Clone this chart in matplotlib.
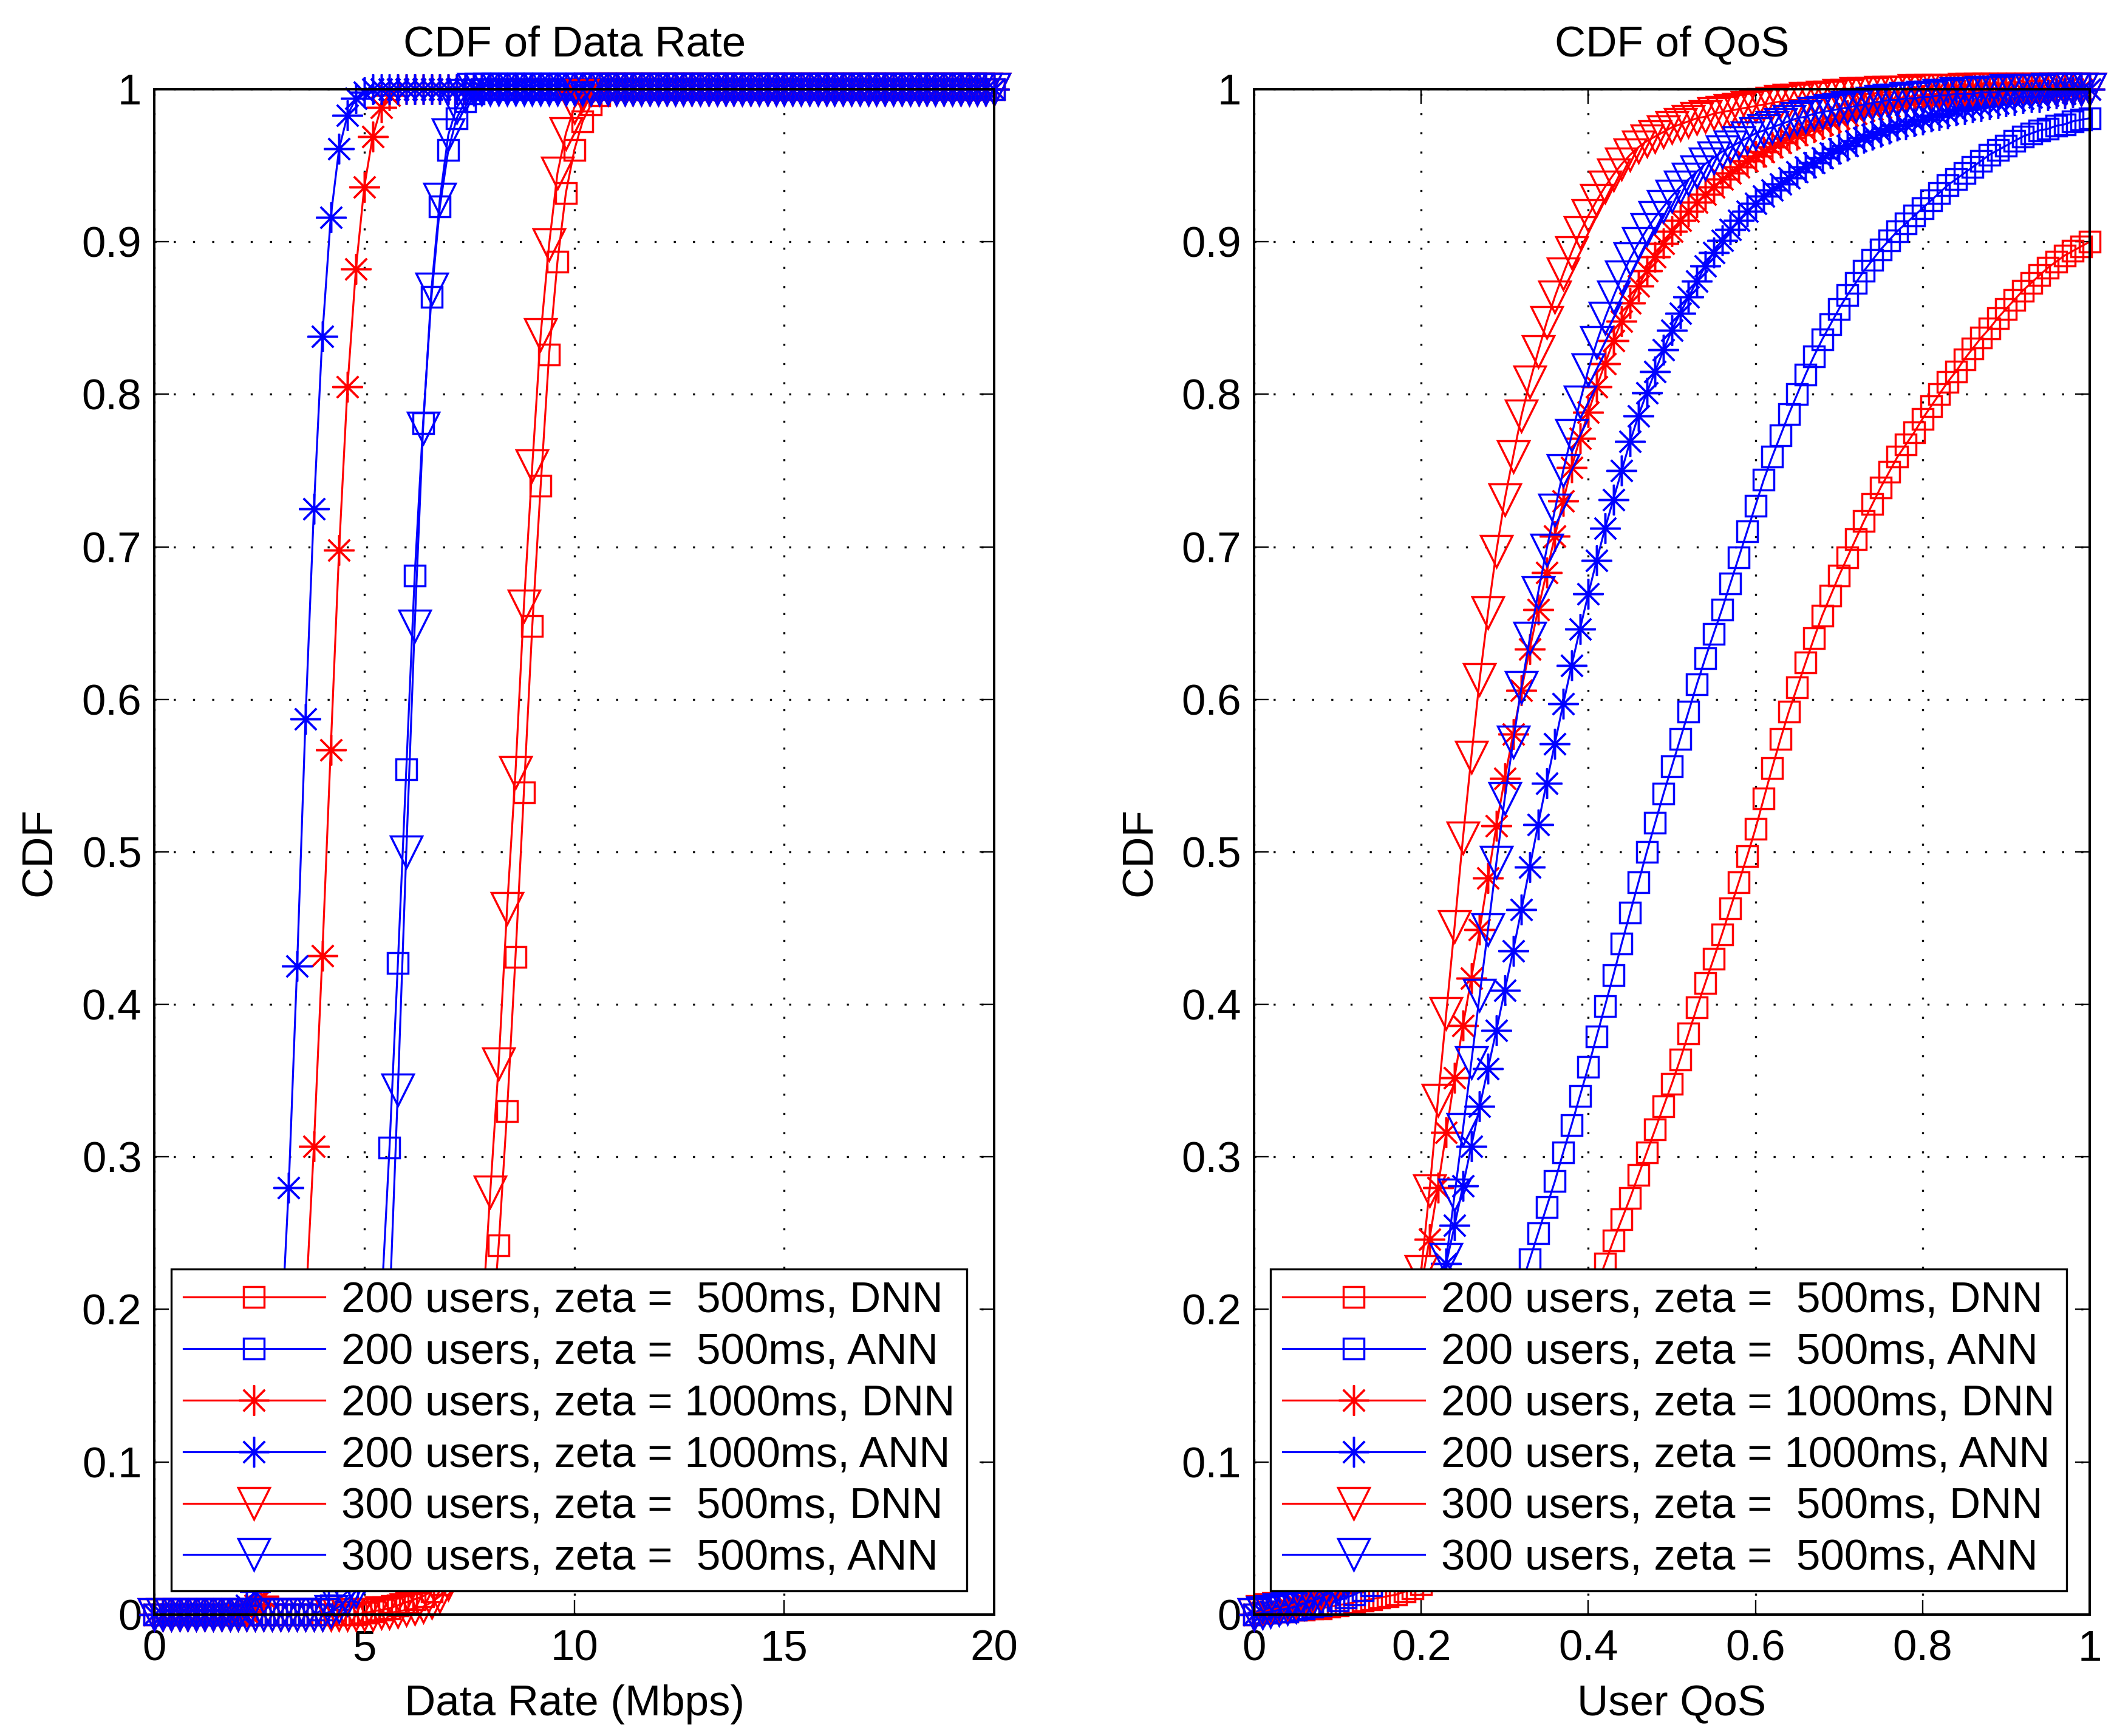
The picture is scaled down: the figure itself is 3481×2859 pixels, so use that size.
import numpy as np
import matplotlib
matplotlib.use("Agg")
import matplotlib.pyplot as plt

plt.rcParams["font.family"] = ["Liberation Sans", "DejaVu Sans"]

# ---- data ----
# left panel: CDF sampled every 0.2 Mbps from 0 to 20
rate_grid = np.linspace(0, 20, 101)

rate_dnn_200_500 = ([0.0] * 25
                    + [0.001, 0.002, 0.003, 0.004, 0.006, 0.008, 0.010, 0.012, 0.015, 0.020,
                       0.028, 0.040, 0.055, 0.080, 0.115, 0.170, 0.242, 0.330, 0.431, 0.539,
                       0.648, 0.740, 0.826, 0.887, 0.932, 0.960, 0.979, 0.990, 0.996]
                    + [1.0] * 47)
rate_ann_200_500 = ([0.0] * 20
                    + [0.003, 0.006, 0.010, 0.015, 0.025, 0.045, 0.090, 0.200, 0.306, 0.427,
                       0.554, 0.681, 0.781, 0.864, 0.923, 0.960, 0.981, 0.992, 0.997]
                    + [1.0] * 62)
rate_dnn_200_1000 = ([0.0] * 11
                     + [0.002, 0.006, 0.012, 0.025, 0.045, 0.080, 0.130, 0.200, 0.307, 0.432,
                        0.567, 0.698, 0.805, 0.882, 0.936, 0.969, 0.988, 0.996]
                     + [1.0] * 72)
rate_ann_200_1000 = ([0.0] * 10
                     + [0.002, 0.006, 0.015, 0.040, 0.090, 0.170, 0.280, 0.425, 0.587, 0.725,
                        0.838, 0.916, 0.961, 0.983, 0.994, 0.998]
                     + [1.0] * 75)
rate_dnn_300_500 = ([0.0] * 27
                    + [0.001, 0.001, 0.002, 0.003, 0.004, 0.005, 0.008, 0.012, 0.020, 0.035,
                       0.060, 0.100, 0.190, 0.277, 0.361, 0.463, 0.552, 0.661, 0.753, 0.839,
                       0.898, 0.945, 0.971, 0.988, 0.996]
                    + [1.0] * 49)
rate_ann_300_500 = ([0.0] * 21
                    + [0.002, 0.005, 0.010, 0.015, 0.025, 0.050, 0.100, 0.200, 0.344, 0.500,
                       0.648, 0.778, 0.869, 0.928, 0.970, 0.988, 0.996]
                    + [1.0] * 63)

# right panel: CDF sampled every 0.01 from 0 to 1
qos_grid = np.linspace(0, 1, 101)

qos_dnn_200_500 = [
    0.000, 0.001, 0.001, 0.002, 0.002, 0.003, 0.003, 0.004, 0.004, 0.005,
    0.006, 0.007, 0.008, 0.009, 0.010, 0.011, 0.012, 0.013, 0.015, 0.017,
    0.020, 0.023, 0.027, 0.031, 0.036, 0.042, 0.048, 0.055, 0.063, 0.071,
    0.080, 0.090, 0.100, 0.111, 0.123, 0.135, 0.148, 0.161, 0.175, 0.188,
    0.202, 0.216, 0.230, 0.245, 0.259, 0.273, 0.288, 0.303, 0.318, 0.333,
    0.348, 0.364, 0.381, 0.398, 0.414, 0.430, 0.446, 0.463, 0.480, 0.497,
    0.515, 0.535, 0.555, 0.574, 0.592, 0.608, 0.624, 0.640, 0.655, 0.668,
    0.681, 0.693, 0.705, 0.717, 0.728, 0.739, 0.749, 0.759, 0.767, 0.775,
    0.784, 0.792, 0.800, 0.808, 0.815, 0.823, 0.830, 0.837, 0.843, 0.850,
    0.856, 0.862, 0.868, 0.873, 0.878, 0.883, 0.887, 0.891, 0.894, 0.897,
    0.900]
qos_ann_200_500 = [
    0.000, 0.001, 0.001, 0.002, 0.002, 0.003, 0.004, 0.005, 0.006, 0.007,
    0.009, 0.011, 0.013, 0.016, 0.019, 0.023, 0.027, 0.032, 0.038, 0.045,
    0.053, 0.062, 0.072, 0.083, 0.095, 0.108, 0.122, 0.137, 0.153, 0.169,
    0.185, 0.200, 0.216, 0.233, 0.250, 0.267, 0.284, 0.303, 0.321, 0.340,
    0.359, 0.379, 0.399, 0.419, 0.440, 0.460, 0.480, 0.500, 0.519, 0.538,
    0.556, 0.574, 0.592, 0.610, 0.627, 0.643, 0.659, 0.676, 0.693, 0.710,
    0.727, 0.744, 0.759, 0.773, 0.787, 0.800, 0.813, 0.825, 0.836, 0.846,
    0.856, 0.865, 0.873, 0.881, 0.888, 0.895, 0.901, 0.907, 0.912, 0.917,
    0.922, 0.927, 0.932, 0.937, 0.941, 0.945, 0.949, 0.953, 0.957, 0.960,
    0.963, 0.966, 0.969, 0.971, 0.973, 0.974, 0.976, 0.977, 0.979, 0.980,
    0.981]
qos_dnn_200_1000 = [
    0.000, 0.001, 0.002, 0.003, 0.005, 0.007, 0.009, 0.012, 0.016, 0.020,
    0.025, 0.032, 0.041, 0.052, 0.066, 0.083, 0.104, 0.128, 0.155, 0.185,
    0.215, 0.246, 0.280, 0.316, 0.352, 0.386, 0.417, 0.449, 0.483, 0.517,
    0.548, 0.577, 0.606, 0.633, 0.659, 0.683, 0.707, 0.730, 0.752, 0.771,
    0.788, 0.805, 0.820, 0.835, 0.848, 0.860, 0.871, 0.881, 0.890, 0.899,
    0.907, 0.914, 0.920, 0.926, 0.931, 0.936, 0.941, 0.945, 0.949, 0.953,
    0.956, 0.959, 0.962, 0.965, 0.968, 0.970, 0.973, 0.975, 0.977, 0.979,
    0.981, 0.983, 0.984, 0.986, 0.987, 0.988, 0.989, 0.990, 0.991, 0.992,
    0.993, 0.994, 0.994, 0.995, 0.996, 0.996, 0.997, 0.997, 0.997, 0.998,
    0.998, 0.998, 0.999, 0.999, 0.999, 0.999, 1.000, 1.000, 1.000, 1.000,
    1.000]
qos_ann_200_1000 = [
    0.000, 0.001, 0.002, 0.003, 0.004, 0.006, 0.008, 0.010, 0.013, 0.016,
    0.020, 0.025, 0.032, 0.040, 0.050, 0.063, 0.078, 0.095, 0.114, 0.135,
    0.157, 0.180, 0.205, 0.230, 0.255, 0.281, 0.307, 0.333, 0.358, 0.383,
    0.409, 0.435, 0.462, 0.490, 0.518, 0.545, 0.571, 0.597, 0.622, 0.646,
    0.669, 0.691, 0.712, 0.731, 0.750, 0.769, 0.786, 0.801, 0.815, 0.829,
    0.842, 0.853, 0.864, 0.874, 0.884, 0.893, 0.901, 0.908, 0.914, 0.920,
    0.925, 0.930, 0.934, 0.938, 0.942, 0.946, 0.949, 0.952, 0.955, 0.958,
    0.961, 0.963, 0.966, 0.968, 0.970, 0.972, 0.974, 0.976, 0.977, 0.979,
    0.980, 0.982, 0.983, 0.984, 0.986, 0.987, 0.988, 0.989, 0.990, 0.991,
    0.992, 0.993, 0.994, 0.995, 0.995, 0.996, 0.997, 0.997, 0.998, 0.999,
    1.000]
qos_dnn_300_500 = [
    0.000, 0.002, 0.003, 0.004, 0.005, 0.007, 0.009, 0.011, 0.014, 0.017,
    0.022, 0.028, 0.036, 0.046, 0.058, 0.074, 0.094, 0.118, 0.146, 0.180,
    0.225, 0.278, 0.337, 0.394, 0.451, 0.509, 0.562, 0.613, 0.657, 0.697,
    0.731, 0.759, 0.786, 0.808, 0.828, 0.847, 0.864, 0.879, 0.893, 0.906,
    0.917, 0.927, 0.936, 0.944, 0.951, 0.957, 0.962, 0.966, 0.969, 0.972,
    0.975, 0.977, 0.979, 0.981, 0.982, 0.984, 0.985, 0.986, 0.987, 0.988,
    0.989, 0.990, 0.991, 0.992, 0.993, 0.993, 0.994, 0.994, 0.995, 0.995,
    0.996, 0.996, 0.997, 0.997, 0.997, 0.998, 0.998, 0.998, 0.998, 0.999,
    0.999, 0.999, 0.999, 0.999, 0.999, 1.000, 1.000, 1.000, 1.000, 1.000,
    1.000, 1.000, 1.000, 1.000, 1.000, 1.000, 1.000, 1.000, 1.000, 1.000,
    1.000]
qos_ann_300_500 = [
    0.000, 0.001, 0.002, 0.003, 0.004, 0.005, 0.007, 0.009, 0.011, 0.014,
    0.017, 0.021, 0.026, 0.032, 0.040, 0.050, 0.062, 0.077, 0.095, 0.115,
    0.140, 0.167, 0.198, 0.233, 0.275, 0.318, 0.362, 0.406, 0.449, 0.493,
    0.535, 0.572, 0.608, 0.640, 0.670, 0.698, 0.724, 0.750, 0.773, 0.795,
    0.816, 0.834, 0.850, 0.864, 0.877, 0.889, 0.899, 0.908, 0.916, 0.923,
    0.930, 0.936, 0.941, 0.946, 0.951, 0.955, 0.959, 0.962, 0.965, 0.968,
    0.971, 0.973, 0.975, 0.977, 0.979, 0.981, 0.982, 0.984, 0.985, 0.986,
    0.987, 0.988, 0.989, 0.990, 0.991, 0.992, 0.993, 0.993, 0.994, 0.994,
    0.995, 0.995, 0.996, 0.996, 0.997, 0.997, 0.997, 0.998, 0.998, 0.998,
    0.999, 0.999, 0.999, 0.999, 0.999, 1.000, 1.000, 1.000, 1.000, 1.000,
    1.000]

series_labels = [
    "200 users, zeta =  500ms, DNN",
    "200 users, zeta =  500ms, ANN",
    "200 users, zeta = 1000ms, DNN",
    "200 users, zeta = 1000ms, ANN",
    "300 users, zeta =  500ms, DNN",
    "300 users, zeta =  500ms, ANN",
]
rate_series = [rate_dnn_200_500, rate_ann_200_500, rate_dnn_200_1000,
               rate_ann_200_1000, rate_dnn_300_500, rate_ann_300_500]
qos_series = [qos_dnn_200_500, qos_ann_200_500, qos_dnn_200_1000,
              qos_ann_200_1000, qos_dnn_300_500, qos_ann_300_500]

cdf_ticks = [0, 0.1, 0.2, 0.3, 0.4, 0.5, 0.6, 0.7, 0.8, 0.9, 1]
cdf_tick_labels = ["0", "0.1", "0.2", "0.3", "0.4", "0.5", "0.6", "0.7", "0.8", "0.9", "1"]
rate_ticks = [0, 5, 10, 15, 20]
rate_tick_labels = ["0", "5", "10", "15", "20"]
qos_ticks = [0, 0.2, 0.4, 0.6, 0.8, 1]
qos_tick_labels = ["0", "0.2", "0.4", "0.6", "0.8", "1"]

# ---- styling ----
colors = ["#ff0000", "#0000ff", "#ff0000", "#0000ff", "#ff0000", "#0000ff"]
markers = ["s", "s", (8, 2, 0), (8, 2, 0), "v", "v"]
marker_sizes = [25, 25, 36, 36, 38, 38]
FS = 51


def style_axes(ax, xticks, xlabels, xlim, title, xlabel):
    ax.set_xlim(*xlim)
    ax.set_ylim(0, 1)
    ax.set_xticks(xticks)
    ax.set_xticklabels(xlabels)
    ax.set_yticks(cdf_ticks)
    ax.set_yticklabels(cdf_tick_labels)
    ax.tick_params(direction="in", length=17, width=1.7, top=True, right=True,
                   labelsize=FS)
    ax.tick_params(axis="x", pad=18)
    ax.tick_params(axis="y", pad=15)
    for sp in ax.spines.values():
        sp.set_linewidth(2.9)
    ax.grid(True, color="k", linestyle=(0, (1, 8.5)), linewidth=2.4)
    ax.set_axisbelow(True)
    ax.set_title(title, fontsize=FS, y=1.029, va="center", pad=0)
    ax.set_xlabel(xlabel, fontsize=FS)
    ax.set_ylabel("CDF", fontsize=FS)
    ax.xaxis.set_label_coords(0.5, -0.046)
    ax.yaxis.set_label_coords(-0.112, 0.5)
    leg = ax.legend(loc="lower left", bbox_to_anchor=(0.02, 0.0155),
                    borderaxespad=0, fontsize=FS, frameon=True, fancybox=False,
                    edgecolor="k", framealpha=1, borderpad=0.28,
                    labelspacing=0.265, handlelength=3.3, handletextpad=0.38)
    leg.get_frame().set_linewidth(2.4)


fig = plt.figure(figsize=(34.81, 28.59), dpi=100)
ax1 = fig.add_axes([0.0730, 0.0700, 0.3973, 0.8786])
ax2 = fig.add_axes([0.5932, 0.0700, 0.3953, 0.8786])

for ys, lab, c, m, ms in zip(rate_series, series_labels, colors, markers, marker_sizes):
    ax1.plot(rate_grid, ys, color=c, marker=m, ms=ms, mfc="none", mec=c,
             mew=2.5, lw=2.3, clip_on=False, label=lab)

for ys, lab, c, m, ms in zip(qos_series, series_labels, colors, markers, marker_sizes):
    ax2.plot(qos_grid, ys, color=c, marker=m, ms=ms, mfc="none", mec=c,
             mew=2.5, lw=2.3, clip_on=False, label=lab)

style_axes(ax1, rate_ticks, rate_tick_labels, (0, 20), "CDF of Data Rate", "Data Rate (Mbps)")
style_axes(ax2, qos_ticks, qos_tick_labels, (0, 1), "CDF of QoS", "User QoS")

fig.savefig("out.png", dpi=100)
